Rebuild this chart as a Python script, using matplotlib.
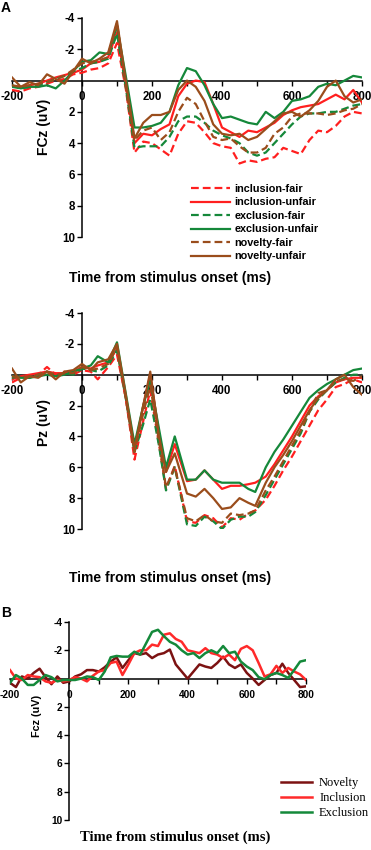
"""ERP waveforms: FCz and Pz by condition (A), FCz difference waves (B)"""
import matplotlib.pyplot as plt
import numpy as np

plt.rcParams['font.family'] = ['Liberation Sans', 'DejaVu Sans']

# ---- panel A, FCz ----
t_fcz = np.arange(-200, 801, 25)
inc_fair_fcz = [0.6, 0.7, 0.5, 0.4, 0.2, 0.0, -0.1, -0.4, -0.5, -0.7, -0.8, -1.1, -2.4,
                0.5, 4.6, 3.9, 4.0, 4.4, 4.8, 3.4, 2.6, 2.7, 3.3, 4.0, 4.2, 4.3, 5.3, 5.1,
                5.2, 5.0, 4.9, 4.3, 4.5, 4.7, 3.8, 3.2, 3.3, 2.9, 2.3, 2.0, 2.1]
inc_unfair_fcz = [0.4, 0.4, 0.3, 0.2, 0.0, -0.2, -0.35, -0.5, -0.7, -1.1, -1.2, -1.5, -3.1,
                  0.3, 4.0, 3.4, 3.5, 3.1, 2.8, 1.0, 0.2, 0.0, 0.1, 1.5, 3.0, 3.3, 3.6, 3.2,
                  3.3, 3.0, 2.7, 2.2, 1.9, 1.7, 1.6, 1.5, 1.2, 0.9, 1.2, 0.6, 1.4]
exc_fair_fcz = [0.4, 0.5, 0.4, 0.3, 0.1, -0.1, -0.3, -0.6, -0.8, -1.1, -1.2, -1.4, -3.0,
                0.4, 4.3, 4.2, 4.2, 4.2, 3.6, 2.6, 2.3, 2.3, 2.7, 3.2, 3.5, 3.7, 4.0, 4.6,
                4.8, 4.6, 4.0, 3.4, 2.8, 2.3, 2.1, 2.1, 2.0, 2.0, 1.8, 1.6, 1.5]
exc_unfair_fcz = [0.3, 0.5, 0.4, 0.4, 0.3, 0.5, 0.0, -0.6, -1.2, -1.3, -1.8, -1.7, -3.5,
                  -0.3, 3.0, 3.0, 2.9, 2.7, 2.0, 0.3, -0.8, -0.6, 0.3, 1.5, 2.4, 2.3, 2.5,
                  2.7, 2.8, 2.0, 2.4, 2.0, 1.3, 1.2, 1.0, 0.4, 0.2, 0.3, 0.0, -0.3, -0.2]
nov_fair_fcz = [0.3, 0.4, 0.3, 0.2, 0.1, -0.1, -0.3, -0.7, -1.1, -1.2, -1.3, -1.5, -3.7,
                0.3, 3.8, 3.2, 3.0, 3.8, 3.3, 2.0, 1.1, 1.5, 2.6, 3.6, 3.8, 3.7, 4.2, 4.6,
                4.6, 4.3, 3.4, 3.0, 2.3, 2.1, 2.1, 2.1, 2.2, 2.1, 1.9, 1.8, 1.5]
nov_unfair_fcz = [-0.2, 0.4, 0.1, 0.3, -0.4, -0.1, 0.2, -0.6, -1.4, -1.1, -1.4, -1.8, -3.8,
                  0.0, 3.7, 2.7, 2.2, 2.2, 2.0, 0.6, 0.0, 0.4, 1.3, 2.8, 3.4, 3.5, 3.4, 3.8,
                  3.6, 3.1, 2.6, 2.1, 2.0, 2.3, 1.9, 1.3, 0.4, 0.0, 1.0, 1.4, 1.2]

# ---- panel A, Pz ----
t_pz = [-200, -175, -150, -125, -100, -75, -50, -25, 0, 25, 45, 75, 100, 125, 150, 175,
        195, 220, 240, 265, 300, 325, 350, 375, 400, 425, 450, 475, 495, 525, 550, 575,
        600, 625, 650, 675, 700, 725, 750, 775, 800]
inc_fair_pz = [0.5, 0.2, 0.1, 0.0, -0.5, 0.0, -0.2, 0.0, -0.3, -0.2, 0.3, -0.5, -1.3, 1.5,
               5.5, 3.0, 1.0, 4.5, 7.4, 5.9, 9.5, 9.6, 9.1, 9.3, 9.9, 9.3, 9.4, 9.0, 8.8,
               8.1, 7.2, 6.2, 5.3, 4.3, 3.3, 2.3, 1.6, 0.8, 0.6, 0.3, 0.5]
inc_unfair_pz = [0.3, 0.1, 0.0, -0.1, -0.2, -0.1, -0.1, -0.2, -0.5, -0.4, -0.6, -0.8, -1.7,
                 1.5, 5.0, 2.0, 0.0, 3.8, 6.3, 4.5, 6.9, 6.8, 6.2, 6.8, 7.4, 7.2, 7.2, 7.1,
                 7.0, 6.6, 5.8, 4.9, 4.0, 3.0, 2.0, 1.4, 1.0, 0.5, 0.3, 0.2, 0.2]
exc_fair_pz = [0.2, 0.1, 0.2, 0.0, -0.2, 0.1, -0.1, 0.0, -0.4, -0.3, -0.2, -0.6, -1.6, 1.5,
               5.0, 3.2, 1.6, 4.6, 7.5, 6.0, 9.7, 9.8, 9.2, 9.5, 10.0, 9.4, 9.2, 9.2, 8.9,
               7.8, 6.8, 5.8, 4.8, 3.8, 2.4, 1.6, 1.0, 0.5, 0.2, 0.0, 0.0]
exc_unfair_pz = [0.1, 0.2, 0.2, 0.1, 0.0, 0.1, 0.0, -0.2, -0.4, -0.6, -1.2, -0.8, -2.1, 1.2,
                 4.5, 2.0, 0.4, 3.5, 6.0, 4.0, 6.8, 6.8, 6.2, 6.8, 7.0, 7.0, 7.0, 7.4, 7.6,
                 6.0, 5.0, 4.2, 3.3, 2.4, 1.5, 1.0, 0.6, 0.3, 0.0, -0.3, -0.4]
nov_fair_pz = [0.1, 0.2, 0.1, 0.0, -0.2, 0.0, -0.1, -0.1, -0.5, -0.3, -0.4, -0.7, -1.8, 1.5,
               5.0, 2.5, 0.7, 4.3, 7.3, 6.0, 9.3, 9.5, 9.1, 9.5, 9.6, 9.0, 9.1, 9.0, 8.8,
               7.5, 6.6, 5.6, 4.6, 3.6, 2.4, 1.2, 1.0, 0.4, 0.3, 0.4, 0.1]
nov_unfair_pz = [-0.4, 0.5, 0.1, 0.2, -0.2, 0.3, -0.2, -0.3, -0.7, -0.3, -0.8, -1.0, -2.0,
                 1.3, 4.8, 2.0, -0.2, 4.0, 6.3, 5.1, 7.7, 7.9, 7.4, 8.0, 8.7, 8.6, 8.0, 8.3,
                 8.5, 7.0, 6.0, 5.2, 4.3, 3.3, 2.3, 1.5, 1.0, 0.3, 0.0, 0.8, 1.3]

# ---- panel B, FCz by group ----
t_b = np.arange(-200, 801, 20)
novelty_b = [0.3, 0.6, -0.15, 0.0, -0.4, -0.7, -0.1, 0.4, -0.15, 0.3,
             0.2, -0.15, -0.3, -0.6, -0.6, -0.5, -0.8, -1.2, -1.5, -0.75,
             -1.3, -1.8, -1.7, -1.8, -1.45, -1.7, -1.8, -2.05, -1.0, -0.5,
             0.0, -0.5, -1.0, -0.85, -0.75, -1.1, -1.55, -1.0, -0.75, -1.0,
             -0.4, 0.0, 0.45, 0.1, -0.25, -0.4, -1.05, -0.4, 0.1, 0.6, 0.55]
inclusion_b = [-0.6, 0.0, 0.1, -0.25, -0.15, -0.1, 0.2, 0.3, 0.1, 0.2,
               0.1, -0.1, 0.0, 0.2, -0.2, -0.5, -0.6, -1.1, -1.2, -0.25,
               -1.0, -1.8, -2.0, -2.0, -2.4, -2.3, -3.1, -3.2, -2.8, -2.6,
               -2.0, -1.9, -1.8, -2.15, -1.8, -1.7, -1.45, -1.7, -1.3, -2.1,
               -2.3, -2.0, -1.1, -0.15, -0.3, -0.9, -0.4, -0.75, -0.5, -0.3, 0.1]
exclusion_b = [0.3, -0.25, 0.0, 0.45, 0.45, 0.1, -0.25, -0.1, 0.2, 0.1,
               0.1, 0.1, 0.0, -0.15, -0.1, 0.1, -0.5, -1.5, -1.6, -1.55,
               -1.55, -1.9, -1.7, -2.5, -3.3, -3.45, -3.0, -2.6, -2.4, -2.0,
               -1.7, -1.8, -1.45, -1.8, -2.0, -1.8, -2.3, -1.8, -1.9, -1.2,
               -0.85, -0.6, -0.1, 0.05, -0.25, -0.4, -0.25, -0.05, -0.6, -1.2, -1.3]

labels_a = ["inclusion-fair", "inclusion-unfair", "exclusion-fair",
            "exclusion-unfair", "novelty-fair", "novelty-unfair"]
labels_b = ["Novelty", "Inclusion", "Exclusion"]

RED, GREEN, BROWN = "#ff1f1f", "#15883a", "#9a4d1c"
styles_a = [(RED, "--"), (RED, "-"), (GREEN, "--"), (GREEN, "-"), (BROWN, "--"), (BROWN, "-")]

W, H = 371, 850
fig = plt.figure(figsize=(W / 100, H / 100), dpi=100)


def add_ax(left, top, right, bottom):
    # pixel box -> figure fraction
    return fig.add_axes([left / W, 1 - bottom / H, (right - left) / W, (bottom - top) / H])


def style_ax(ax, tick_fs, xpad, ypad):
    ax.set_xlim(-200, 800)
    ax.set_ylim(10, -4)
    for s in ("top", "right"):
        ax.spines[s].set_visible(False)
    ax.spines["left"].set_position(("data", 0))
    ax.spines["bottom"].set_position(("data", 0))
    for s in ("left", "bottom"):
        ax.spines[s].set_linewidth(1.1)
        ax.spines[s].set_zorder(2)
    ax.set_xticks(range(-200, 801, 100))
    ax.set_xticklabels([str(v) if v % 200 == 0 else "" for v in range(-200, 801, 100)])
    ax.set_yticks([-4, -2, 2, 4, 6, 8, 10])
    ax.set_yticklabels(["-4", "-2", "2", "4", "6", "8", "10"])
    ax.tick_params(axis="x", direction="out", length=3.5, width=1, pad=xpad,
                   labelsize=tick_fs)
    ax.tick_params(axis="y", direction="out", length=3.5, width=1, pad=ypad,
                   labelsize=tick_fs)
    for lab in ax.get_xticklabels() + ax.get_yticklabels():
        lab.set_fontweight("bold")
    ax.patch.set_visible(False)


# panel A top
ax1 = add_ax(12, 18, 362, 237)
series_fcz = [inc_fair_fcz, inc_unfair_fcz, exc_fair_fcz, exc_unfair_fcz, nov_fair_fcz, nov_unfair_fcz]
for y, (c, ls), lab in zip(series_fcz, styles_a, labels_a):
    ax1.plot(t_fcz, y, color=c, ls=ls, lw=1.6, label=lab, zorder=3,
             dashes=(3.5, 1.8) if ls == "--" else (None, None))
style_ax(ax1, 8.3, 4, 1.5)
ax1.legend(loc="upper left", bbox_to_anchor=(191 / W, 1 - 184 / H), bbox_transform=fig.transFigure,
           frameon=False, handlelength=3.6, handletextpad=0.4, labelspacing=0.32,
           borderpad=0, borderaxespad=0, prop={"weight": "bold", "size": 7.8})

# panel A bottom
ax2 = add_ax(12, 313, 362, 529)
series_pz = [inc_fair_pz, inc_unfair_pz, exc_fair_pz, exc_unfair_pz, nov_fair_pz, nov_unfair_pz]
for y, (c, ls) in zip(series_pz, styles_a):
    ax2.plot(t_pz, y, color=c, ls=ls, lw=1.6, zorder=3,
             dashes=(3.5, 1.8) if ls == "--" else (None, None))
style_ax(ax2, 8.3, 4, 1.5)

# panel B
ax3 = add_ax(10, 622, 306, 820)
for y, c, lab in zip([novelty_b, inclusion_b, exclusion_b], ["#7c1212", "#ff2a2a", "#14893a"], labels_b):
    ax3.plot(t_b, y, color=c, lw=1.8, label=lab, zorder=3)
style_ax(ax3, 7.3, 4.5, 1.5)
ax3.legend(loc="upper left", bbox_to_anchor=(281 / W, 1 - 777 / H), bbox_transform=fig.transFigure,
           frameon=False, handlelength=2.5, handletextpad=0.55, labelspacing=0.25,
           borderpad=0, borderaxespad=0,
           prop={"family": "Liberation Serif", "size": 9})

# axis titles
xl = "Time from stimulus onset (ms)"
fig.text(170 / W, 1 - 278 / H, xl, ha="center", va="center", fontsize=10, fontweight="bold")
fig.text(170 / W, 1 - 578 / H, xl, ha="center", va="center", fontsize=10, fontweight="bold")
fig.text(175 / W, 1 - 837 / H, xl, ha="center", va="center", fontsize=10.5, fontweight="bold",
         family="Liberation Serif")
fig.text(44 / W, 1 - 127 / H, "FCz (uV)", rotation=90, ha="center", va="center",
         fontsize=10, fontweight="bold")
fig.text(44 / W, 1 - 423 / H, "Pz (uV)", rotation=90, ha="center", va="center",
         fontsize=10, fontweight="bold")
fig.text(37 / W, 1 - 716 / H, "Fcz (uV)", rotation=90, ha="center", va="center",
         fontsize=7.8, fontweight="bold")
fig.text(6 / W, 1 - 8 / H, "A", ha="center", va="center", fontsize=10, fontweight="bold")
fig.text(6 / W, 1 - 613 / H, "B", ha="center", va="center", fontsize=10, fontweight="bold")

fig.savefig("out.png", dpi=100)
